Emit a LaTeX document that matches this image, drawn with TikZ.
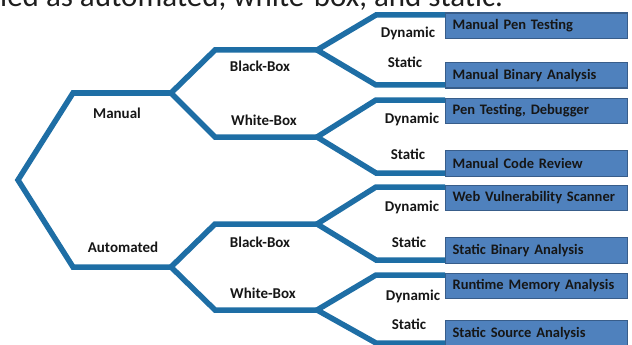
\documentclass[tikz,border=0pt]{standalone}
\usepackage{fontspec}
\setmainfont{Carlito}
\definecolor{branch}{RGB}{30,110,165}
\definecolor{boxfill}{RGB}{79,129,189}
\definecolor{boxedge}{RGB}{56,93,138}
\definecolor{ink}{RGB}{22,22,22}
\definecolor{titleink}{RGB}{30,30,30}
\begin{document}
\begin{tikzpicture}[x=1pt,y=-1pt,
  branchline/.style={draw=branch,line width=5.5pt,line join=miter},
  leaf/.style={draw=boxedge,line width=1.2pt,fill=boxfill,anchor=north west,
    minimum width=182pt,minimum height=25.5pt,text width=168pt,inner xsep=7pt,
    inner ysep=0pt,align=left,font=\bfseries\fontsize{14.5}{16}\selectfont,text=ink},
  lbl/.style={anchor=base,font=\bfseries\fontsize{15}{17}\selectfont,text=ink,inner sep=0pt}]
\useasboundingbox (0,0) rectangle (632,345);

% title fragment
\node[anchor=base west,inner sep=0pt,font=\fontsize{31}{36}\selectfont,text=titleink] (title) at (0,7) {ied as automated, white-box, and static.};

% tree coordinates
\coordinate (R) at (18,180);
\coordinate (Mb) at (73,93);   \coordinate (Mf) at (171,93);
\coordinate (Ab) at (73,267);  \coordinate (Af) at (171,267);
\coordinate (MBb) at (215,50);  \coordinate (MBf) at (317,50);
\coordinate (MWb) at (215,137); \coordinate (MWf) at (317,137);
\coordinate (ABb) at (215,224); \coordinate (ABf) at (317,224);
\coordinate (AWb) at (215,310); \coordinate (AWf) at (317,310);
\coordinate (d1) at (376,15);  \coordinate (s1) at (376,85);
\coordinate (d2) at (376,100); \coordinate (s2) at (376,173);
\coordinate (d3) at (376,187); \coordinate (s3) at (376,260);
\coordinate (d4) at (376,275); \coordinate (s4) at (376,343);

% leaf boxes
\node[leaf] (b1) at (445,12.5)  {Manual Pen Testing};
\node[leaf] (b2) at (445,62)    {Manual Binary Analysis};
\node[leaf] (b3) at (445,97.5)  {Pen Testing, Debugger};
\node[leaf] (b4) at (445,150)   {Manual Code Review};
\node[leaf] (b5) at (445,184.5) {Web Vulnerability Scanner};
\node[leaf] (b6) at (445,237)   {Static Binary Analysis};
\node[leaf] (b7) at (445,272.5) {Runtime Memory Analysis};
\node[leaf] (b8) at (445,320)   {Static Source Analysis};

% branches
\draw[branchline] (Mf) -- (Mb) -- (R) -- (Ab) -- (Af);
\draw[branchline] (MBf) -- (MBb) -- (Mf) -- (MWb) -- (MWf);
\draw[branchline] (ABf) -- (ABb) -- (Af) -- (AWb) -- (AWf);
\draw[branchline] (b1.west |- d1) -- (d1) -- (MBf) -- (s1) -- (b2.west |- s1);
\draw[branchline] (b3.west |- d2) -- (d2) -- (MWf) -- (s2) -- (b4.west |- s2);
\draw[branchline] (b5.west |- d3) -- (d3) -- (ABf) -- (s3) -- (b6.west |- s3);
\draw[branchline] (b7.west |- d4) -- (d4) -- (AWf) -- (s4) -- (b8.west |- s4);

% labels
\node[lbl] (lman) at (117,118) {Manual};
\node[lbl] (laut) at (123,252) {Automated};
\node[lbl] (lmbb) at (260,72)  {Black-Box};
\node[lbl] (lmwb) at (264,125) {White-Box};
\node[lbl] (labb) at (260,247) {Black-Box};
\node[lbl] (lawb) at (263,298) {White-Box};
\node[lbl] (ld1) at (408,38)  {Dynamic};
\node[lbl] (ls1) at (405,68)  {Static};
\node[lbl] (ld2) at (412,123) {Dynamic};
\node[lbl] (ls2) at (408,159) {Static};
\node[lbl] (ld3) at (412,211) {Dynamic};
\node[lbl] (ls3) at (409,247) {Static};
\node[lbl] (ld4) at (413,300) {Dynamic};
\node[lbl] (ls4) at (409,329) {Static};
\end{tikzpicture}
\end{document}
